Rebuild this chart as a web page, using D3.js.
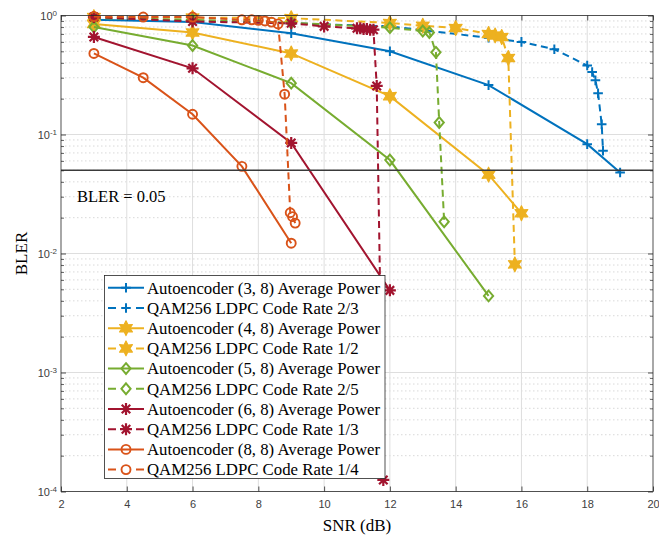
<!DOCTYPE html>
<html>
<head>
<meta charset="utf-8">
<script src="https://cdn.jsdelivr.net/npm/d3@7"></script>
<style>
  body { margin: 0; background: #fff; }
  svg { display: block; }
</style>
</head>
<body>
<svg id="chart" width="659" height="536"></svg>
<script>
// ---- data -------------------------------------------------------------
const xTickValues = [2, 4, 6, 8, 10, 12, 14, 16, 18, 20];
const yTickExponents = [0, -1, -2, -3, -4];
const thresholdBler = 0.05;
const thresholdLabel = "BLER = 0.05";

// Autoencoder curves (solid)
const snrAE3 = [3, 6, 9, 12, 15, 18, 19];
const blerAE3 = [0.92, 0.88, 0.71, 0.50, 0.26, 0.083, 0.048];
const snrAE4 = [3, 6, 9, 12, 15, 16];
const blerAE4 = [0.85, 0.72, 0.48, 0.21, 0.046, 0.0218];
const snrAE5 = [3, 6, 9, 12, 15];
const blerAE5 = [0.80, 0.56, 0.27, 0.061, 0.0044];
const snrAE6 = [3, 6, 9, 12];
const blerAE6 = [0.66, 0.36, 0.085, 0.0049];
const snrAE8 = [3, 4.5, 6, 7.5, 9];
const blerAE8 = [0.48, 0.30, 0.148, 0.054, 0.0122];

// QAM256 + LDPC curves (dashed)
const snrR23 = [3, 6, 9, 12, 15, 16, 17, 18, 18.15, 18.25, 18.33, 18.44, 18.48];
const blerR23 = [0.93, 0.90, 0.86, 0.81, 0.65, 0.60, 0.52, 0.38, 0.335, 0.285, 0.222, 0.122, 0.073];
const snrR12 = [3, 6, 9, 12, 13, 14, 15, 15.2, 15.4, 15.6, 15.8];
const blerR12 = [0.97, 0.96, 0.95, 0.865, 0.82, 0.785, 0.70, 0.68, 0.66, 0.44, 0.0081];
const snrR25 = [3, 6, 9, 12, 13, 13.2, 13.4, 13.5, 13.65];
const blerR25 = [0.95, 0.92, 0.87, 0.79, 0.74, 0.72, 0.49, 0.126, 0.0185];
const snrR13 = [3, 6, 9, 10, 11, 11.1, 11.2, 11.3, 11.4, 11.5, 11.6, 11.8];
const blerR13 = [0.97, 0.89, 0.86, 0.81, 0.78, 0.78, 0.77, 0.77, 0.76, 0.76, 0.256, 0.000125];
const snrR14 = [3, 4.5, 6, 7.5, 7.8, 8.0, 8.2, 8.4, 8.6, 8.8, 8.97, 9.04, 9.12];
const blerR14 = [0.98, 0.97, 0.97, 0.92, 0.92, 0.91, 0.90, 0.88, 0.85, 0.218, 0.022, 0.0204, 0.018];

const seriesNames = [
  "Autoencoder (3, 8) Average Power", "QAM256 LDPC Code Rate 2/3",
  "Autoencoder (4, 8) Average Power", "QAM256 LDPC Code Rate 1/2",
  "Autoencoder (5, 8) Average Power", "QAM256 LDPC Code Rate 2/5",
  "Autoencoder (6, 8) Average Power", "QAM256 LDPC Code Rate 1/3",
  "Autoencoder (8, 8) Average Power", "QAM256 LDPC Code Rate 1/4"
];
const seriesX = [snrAE3, snrR23, snrAE4, snrR12, snrAE5, snrR25, snrAE6, snrR13, snrAE8, snrR14];
const seriesY = [blerAE3, blerR23, blerAE4, blerR12, blerAE5, blerR25, blerAE6, blerR13, blerAE8, blerR14];

// ---- styling ----------------------------------------------------------
const palette = ["#0072BD", "#EDB120", "#77AC30", "#A2142F", "#D95319"];
const markerTypes = ["plus", "hexagram", "diamond", "asterisk", "circle"];
const series = seriesNames.map((name, i) => ({
  name,
  x: seriesX[i],
  y: seriesY[i],
  color: palette[Math.floor(i / 2)],
  marker: markerTypes[Math.floor(i / 2)],
  dashed: i % 2 === 1
}));

const plot = { left: 61, right: 653, top: 15.5, bottom: 491.5 };
const axisColor = "#262626";
const serif = "'Liberation Serif', 'Times New Roman', serif";
const sans = "'Liberation Sans', Arial, Helvetica, sans-serif";

const svg = d3.select("#chart");
const x = d3.scaleLinear().domain([2, 20]).range([plot.left, plot.right]);
const y = d3.scaleLog().domain([1e-4, 1]).range([plot.bottom, plot.top]);

// ---- grid -------------------------------------------------------------
const grid = svg.append("g");
const minorVals = [];
for (let e = -4; e < 0; e++) for (let m = 2; m <= 9; m++) minorVals.push(m * Math.pow(10, e));

grid.selectAll(".ymin").data(minorVals).join("line")
  .attr("x1", plot.left).attr("x2", plot.right)
  .attr("y1", d => y(d)).attr("y2", d => y(d))
  .attr("stroke", "#cfcfcf").attr("stroke-width", 0.8)
  .attr("stroke-dasharray", "1.5,2.5");
grid.selectAll(".ymaj").data(yTickExponents.slice(1, -1)).join("line")
  .attr("x1", plot.left).attr("x2", plot.right)
  .attr("y1", d => y(Math.pow(10, d))).attr("y2", d => y(Math.pow(10, d)))
  .attr("stroke", "#dedede").attr("stroke-width", 1);
grid.selectAll(".xmaj").data(xTickValues.slice(1, -1)).join("line")
  .attr("x1", d => x(d)).attr("x2", d => x(d))
  .attr("y1", plot.top).attr("y2", plot.bottom)
  .attr("stroke", "#dedede").attr("stroke-width", 1);

// ---- curves -----------------------------------------------------------
const line = d3.line().x(d => x(d[0])).y(d => y(d[1]));
const curves = svg.append("g");

function drawMarker(g, type, color, cx, cy) {
  const m = g.append("g").attr("transform", `translate(${cx},${cy})`);
  if (type === "plus") {
    m.append("path").attr("d", "M-4.8,0H4.8M0,-4.8V4.8")
      .attr("stroke", color).attr("stroke-width", 2).attr("fill", "none");
  } else if (type === "hexagram") {
    const pts = d3.range(12).map(k => {
      const r = k % 2 === 0 ? 7.4 : 3.9;
      const a = -Math.PI / 2 + k * Math.PI / 6;
      return [r * Math.cos(a), r * Math.sin(a)];
    });
    m.append("polygon").attr("points", pts.map(p => p.join(",")).join(" "))
      .attr("fill", color).attr("stroke", color).attr("stroke-width", 1.2)
      .attr("stroke-linejoin", "round");
  } else if (type === "diamond") {
    m.append("path").attr("d", "M0,-5.4L4.6,0L0,5.4L-4.6,0Z")
      .attr("fill", "none").attr("stroke", color).attr("stroke-width", 2);
  } else if (type === "asterisk") {
    const r = 6, q = r * Math.SQRT1_2;
    m.append("path")
      .attr("d", `M${-r},0H${r}M0,${-r}V${r}M${-q},${-q}L${q},${q}M${-q},${q}L${q},${-q}`)
      .attr("stroke", color).attr("stroke-width", 2.2).attr("fill", "none");
  } else if (type === "circle") {
    m.append("circle").attr("r", 4.5)
      .attr("fill", "none").attr("stroke", color).attr("stroke-width", 1.9);
  }
}

series.forEach(s => {
  const pts = s.x.map((v, i) => [v, s.y[i]]);
  curves.append("path").datum(pts)
    .attr("d", line)
    .attr("fill", "none")
    .attr("stroke", s.color)
    .attr("stroke-width", 2)
    .attr("stroke-dasharray", s.dashed ? "7,4.5" : null);
  pts.forEach(p => drawMarker(curves, s.marker, s.color, x(p[0]), y(p[1])));
});

// threshold line and its note
svg.append("line")
  .attr("x1", plot.left).attr("x2", plot.right)
  .attr("y1", y(thresholdBler)).attr("y2", y(thresholdBler))
  .attr("stroke", "#3a3a3a").attr("stroke-width", 1.5);
svg.append("text")
  .attr("x", 77).attr("y", 202)
  .attr("font-family", serif).attr("font-size", 16.5)
  .attr("fill", "#000")
  .text(thresholdLabel);

// ---- axes ---------------------------------------------------------------
const axes = svg.append("g").attr("color", axisColor);
axes.append("rect")
  .attr("x", plot.left).attr("y", plot.top)
  .attr("width", plot.right - plot.left).attr("height", plot.bottom - plot.top)
  .attr("fill", "none").attr("stroke", axisColor).attr("stroke-width", 0.8);

const xAxis = d3.axisBottom(x).tickValues(xTickValues).tickSize(-5).tickPadding(9)
  .tickFormat(d3.format("d"));
const gx = axes.append("g").attr("transform", `translate(0,${plot.bottom})`).call(xAxis);
gx.select(".domain").remove();
gx.selectAll("text").attr("font-family", sans).attr("font-size", 11).attr("fill", "#404040");
gx.selectAll("line").attr("stroke-width", 0.8);

const xAxisTop = d3.axisTop(x).tickValues(xTickValues).tickSize(-5).tickFormat("");
const gxt = axes.append("g").attr("transform", `translate(0,${plot.top})`).call(xAxisTop);
gxt.select(".domain").remove();
gxt.selectAll("line").attr("stroke-width", 0.8);

const yMajor = yTickExponents.map(e => Math.pow(10, e));
const yAxis = d3.axisLeft(y).tickValues(yMajor).tickSize(-5).tickFormat("");
const gy = axes.append("g").attr("transform", `translate(${plot.left},0)`).call(yAxis);
gy.select(".domain").remove();
gy.selectAll("line").attr("stroke-width", 0.8);
gy.selectAll(".tick").append("text")
  .attr("x", -4).attr("dy", "0.36em")
  .attr("text-anchor", "end")
  .attr("font-family", sans).attr("font-size", 11).attr("fill", "#404040")
  .each(function (d) {
    const t = d3.select(this);
    const e = Math.round(Math.log10(d));
    t.append("tspan").text("10");
    t.append("tspan").attr("dy", "-0.45em").attr("font-size", 8).text(String(e));
  });

const yAxisMinorL = d3.axisLeft(y).tickValues(minorVals).tickSize(-3).tickFormat("");
const gyl = axes.append("g").attr("transform", `translate(${plot.left},0)`).call(yAxisMinorL);
gyl.select(".domain").remove();
gyl.selectAll("line").attr("stroke-width", 0.7);

const yAxisR = d3.axisRight(y).tickValues(yMajor).tickSize(-5).tickFormat("");
const gyr = axes.append("g").attr("transform", `translate(${plot.right},0)`).call(yAxisR);
gyr.select(".domain").remove();
gyr.selectAll("line").attr("stroke-width", 0.8);
const yAxisMinorR = d3.axisRight(y).tickValues(minorVals).tickSize(-3).tickFormat("");
const gyrm = axes.append("g").attr("transform", `translate(${plot.right},0)`).call(yAxisMinorR);
gyrm.select(".domain").remove();
gyrm.selectAll("line").attr("stroke-width", 0.7);

// axis titles
svg.append("text")
  .attr("x", (plot.left + plot.right) / 2).attr("y", 531)
  .attr("text-anchor", "middle")
  .attr("font-family", serif).attr("font-size", 17).attr("fill", "#000")
  .text("SNR (dB)");
svg.append("text")
  .attr("transform", `translate(27,${(plot.top + plot.bottom) / 2}) rotate(-90)`)
  .attr("text-anchor", "middle")
  .attr("font-family", serif).attr("font-size", 17).attr("fill", "#000")
  .text("BLER");

// ---- legend -------------------------------------------------------------
const legend = svg.append("g");
const lg = { x0: 104.5, y0: 275.5, x1: 385, y1: 478.5, row: 20.2, first: 287.8 };
legend.append("rect")
  .attr("x", lg.x0).attr("y", lg.y0)
  .attr("width", lg.x1 - lg.x0).attr("height", lg.y1 - lg.y0)
  .attr("fill", "#fff").attr("stroke", axisColor).attr("stroke-width", 0.8);
series.forEach((s, i) => {
  const cy = lg.first + i * lg.row;
  if (s.dashed) {
    legend.append("path").attr("d", `M108,${cy}H116M136,${cy}H144`)
      .attr("stroke", s.color).attr("stroke-width", 2);
  } else {
    legend.append("line").attr("x1", 108).attr("x2", 144).attr("y1", cy).attr("y2", cy)
      .attr("stroke", s.color).attr("stroke-width", 2);
  }
  drawMarker(legend, s.marker, s.color, 126, cy);
  legend.append("text")
    .attr("x", 147).attr("y", cy).attr("dy", "0.34em")
    .attr("font-family", serif).attr("font-size", 16.8).attr("fill", "#000")
    .text(s.name);
});
</script>
</body>
</html>
